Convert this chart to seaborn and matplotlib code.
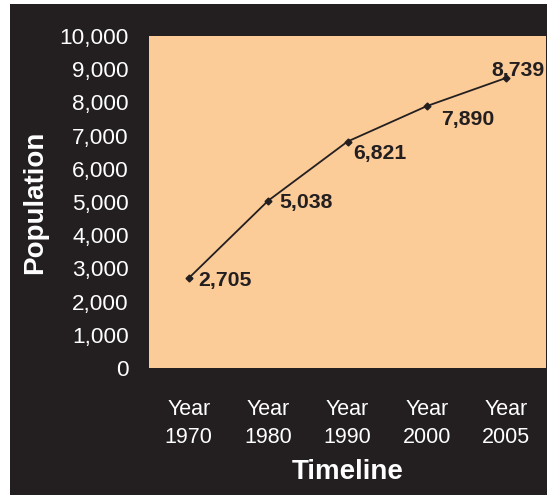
import matplotlib
matplotlib.use("Agg")
import matplotlib.pyplot as plt
import seaborn as sns
import pandas as pd

years = ["Year\n1970", "Year\n1980", "Year\n1990", "Year\n2000", "Year\n2005"]
population = [2705, 5038, 6821, 7890, 8739]
value_labels = ["2,705", "5,038", "6,821", "7,890", "8,739"]
y_ticks = [0, 1000, 2000, 3000, 4000, 5000, 6000, 7000, 8000, 9000, 10000]

bg = "#231F20"
peach = "#FBCB98"

sns.set_style("white")
plt.rcParams['font.family'] = ['Liberation Sans', 'DejaVu Sans']

df = pd.DataFrame({"year": years, "population": population})

fig = plt.figure(figsize=(5.47, 4.95), dpi=100)
fig.patch.set_facecolor("white")
# black panel with thin white margin on the left and top
fig.patches.append(plt.Rectangle((10 / 547, 0), 1, 1 - 4 / 495, transform=fig.transFigure,
                                 facecolor=bg, edgecolor="none", zorder=-5))

ax = fig.add_axes([149 / 547, 1 - 368 / 495, 397 / 547, 332 / 495])
ax.set_facecolor(peach)

sns.pointplot(data=df, x="year", y="population", ax=ax, color=bg,
              markers="D", markersize=3.5, linewidth=1.3)

ax.set_xlim(-0.5, len(years) - 0.5)
ax.set_ylim(0, 10000)
ax.set_yticks(y_ticks)
ax.set_yticklabels([f"{v:,}" for v in y_ticks])
for s in ax.spines.values():
    s.set_visible(False)
ax.tick_params(axis="both", colors="#555555", labelcolor="white", labelsize=16.2, length=3)
ax.tick_params(axis="y", pad=11.5)
ax.tick_params(axis="x", pad=19, labelsize=15.5)
for t in ax.get_xticklabels():
    t.set_linespacing(1.45)

offsets = [(10, -2, "left"), (11, -2, "left"), (6, -12, "left"), (14, -13, "left"), (-15, 7, "left")]
for i, (v, lab) in enumerate(zip(population, value_labels)):
    dx, dy, ha = offsets[i]
    ax.annotate(lab, (i, v), xytext=(dx, dy), textcoords="offset pixels",
                ha=ha, va="center", fontsize=15.3, fontweight="bold", color=bg)

ax.set_xlabel("Timeline", color="white", fontsize=20, fontweight="bold", labelpad=8)
ax.set_ylabel("Population", color="white", fontsize=20, fontweight="bold", labelpad=8)

fig.savefig("out.png", dpi=100, facecolor=fig.get_facecolor())
